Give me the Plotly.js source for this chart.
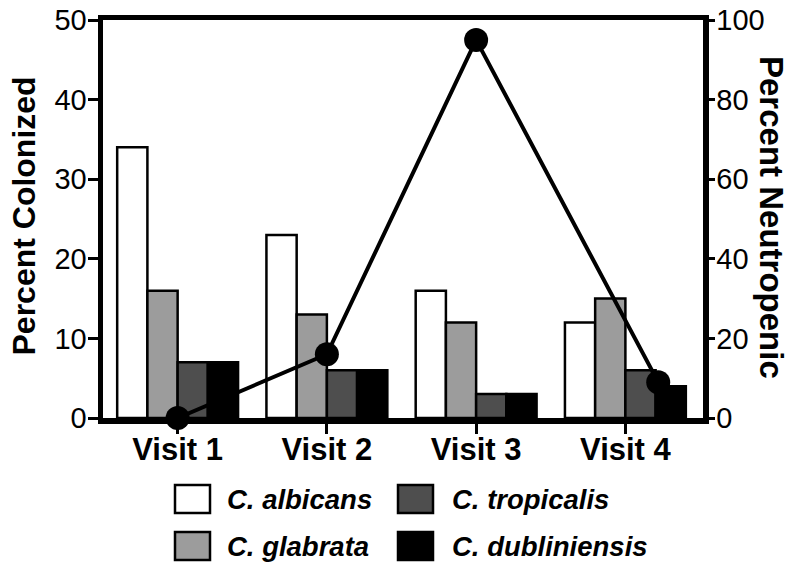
<!DOCTYPE html>
<html>
<head>
<meta charset="utf-8">
<script src="https://cdn.plot.ly/plotly-3.0.1.min.js"></script>
<style>html,body{margin:0;padding:0;background:#fff;}#chart{width:800px;height:574px;}</style>
</head>
<body>
<div id="chart"></div>
<script>
// ---- data ----
var visits = ["Visit 1", "Visit 2", "Visit 3", "Visit 4"];
var visitPos = [0, 1, 2, 3];
var species = ["C. albicans", "C. glabrata", "C. tropicalis", "C. dubliniensis"];
var speciesColors = ["#ffffff", "#9c9c9c", "#4e4e4e", "#000000"];
var albicans = [34, 23, 16, 12];
var glabrata = [16, 13, 12, 15];
var tropicalis = [7, 6, 3, 6];
var dubliniensis = [7, 6, 3, 4];
var neutropenicPos = [0, 1, 2, 3.22];
var neutropenic = [0, 16, 95, 9];
var leftTicks = [0, 10, 20, 30, 40, 50];
var rightTicks = [0, 20, 40, 60, 80, 100];

var seriesValues = [albicans, glabrata, tropicalis, dubliniensis];

// ---- layout geometry ----
var W = 800, H = 574;
var M = {l: 103, r: 97, t: 20, b: 156};
var PW = W - M.l - M.r, PH = H - M.t - M.b;
function px2x(p) { return (p - M.l) / PW; }
function px2y(p) { return (H - M.b - p) / PH; }
var FONT = "Liberation Sans, Arial, Helvetica, sans-serif";

var traces = [];
for (var i = 0; i < species.length; i++) {
  traces.push({
    type: "bar",
    x: visitPos,
    y: seriesValues[i],
    name: species[i],
    marker: {color: speciesColors[i], line: {color: "#000", width: 2.5}},
    showlegend: false,
    hoverinfo: "y"
  });
}
traces.push({
  type: "scatter",
  mode: "lines+markers",
  x: neutropenicPos,
  y: neutropenic,
  yaxis: "y2",
  name: "Percent Neutropenic",
  line: {color: "#000", width: 4},
  marker: {color: "#000", size: 24},
  cliponaxis: false,
  showlegend: false
});

// legend built from species arrays
var shapes = [], annotations = [];
var colX = [175, 398], textX = [225, 450];
var rowTop = [485, 532], boxW = 35, boxH = 28;
var order = [[0, 0], [1, 0], [0, 1], [1, 1]]; // species index -> [row, col]
for (var k = 0; k < species.length; k++) {
  var r = order[k][0], c = order[k][1];
  shapes.push({
    type: "rect", xref: "paper", yref: "paper",
    x0: px2x(colX[c]), x1: px2x(colX[c] + boxW),
    y0: px2y(rowTop[r] + boxH), y1: px2y(rowTop[r]),
    fillcolor: speciesColors[k], line: {color: "#000", width: 2.5}
  });
  annotations.push({
    xref: "paper", yref: "paper",
    x: px2x(textX[c]), y: px2y(rowTop[r] + boxH / 2),
    xanchor: "left", yanchor: "middle", showarrow: false,
    text: "<b><i>" + species[k] + "</i></b>",
    font: {family: FONT, size: 27.5, color: "#000"}
  });
}
annotations.push({
  xref: "paper", yref: "paper", x: px2x(23.5), y: px2y(216),
  xanchor: "center", yanchor: "middle", showarrow: false, textangle: -90,
  text: "<b>Percent Colonized</b>", font: {family: FONT, size: 32, color: "#000"}
});
annotations.push({
  xref: "paper", yref: "paper", x: px2x(772), y: px2y(217),
  xanchor: "center", yanchor: "middle", showarrow: false, textangle: 90,
  text: "<b>Percent Neutropenic</b>", font: {family: FONT, size: 33, color: "#000"}
});

var layout = {
  width: W, height: H,
  margin: M,
  paper_bgcolor: "#fff", plot_bgcolor: "#fff",
  barmode: "group", bargap: 0.19, bargroupgap: 0,
  showlegend: false,
  font: {family: FONT, color: "#000"},
  xaxis: {
    type: "linear", range: [-0.5, 3.52],
    tickmode: "array", tickvals: visitPos, ticktext: visits.map(function(v){return "<b>" + v + "</b>";}),
    tickfont: {family: FONT, size: 31, color: "#000"},
    ticks: "outside", ticklen: 10, tickwidth: 3, tickcolor: "#000",
    ticklabelstandoff: -11,
    showline: true, linecolor: "#000", linewidth: 5.5, mirror: true,
    showgrid: false, zeroline: false, fixedrange: true, layer: "below traces"
  },
  yaxis: {
    range: [0, 50], tickmode: "array", tickvals: leftTicks,
    tickfont: {family: FONT, size: 29, color: "#000"},
    ticks: "outside", ticklen: 10, tickwidth: 3, tickcolor: "#000",
    ticklabelstandoff: -5,
    showline: true, linecolor: "#000", linewidth: 5.5,
    showgrid: false, zeroline: false, fixedrange: true, layer: "below traces"
  },
  yaxis2: {
    overlaying: "y", side: "right",
    range: [0, 100], tickmode: "array", tickvals: rightTicks,
    tickfont: {family: FONT, size: 29, color: "#000"},
    ticks: "outside", ticklen: 6, tickwidth: 3, tickcolor: "#000",
    ticklabelstandoff: -4,
    showline: true, linecolor: "#000", linewidth: 5.5,
    showgrid: false, zeroline: false, fixedrange: true, layer: "below traces"
  },
  shapes: shapes,
  annotations: annotations
};

Plotly.newPlot("chart", traces, layout, {displayModeBar: false, staticPlot: true});
</script>
</body>
</html>
